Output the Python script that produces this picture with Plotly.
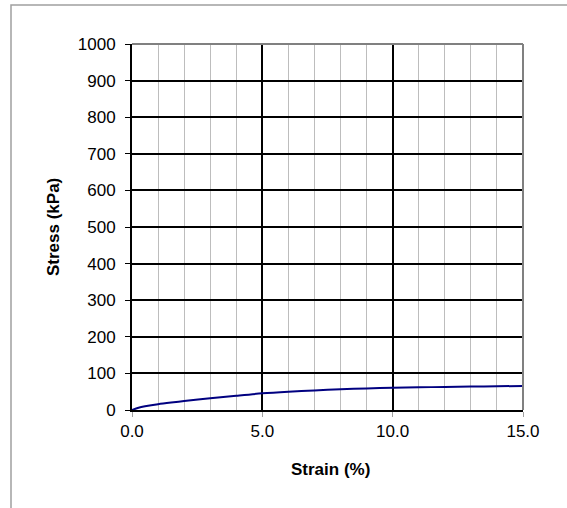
import plotly.graph_objects as go

strain = [0, 0.25, 0.5, 1, 1.5, 2, 3, 4, 5, 6, 7, 8, 9, 10, 11, 12, 13, 14, 15]
stress = [0, 6, 10, 16, 20.5, 24.5, 32, 39, 45.5, 50, 53.5, 56.5, 59, 61, 62, 63, 64, 65, 65.5]

x_ticks = [0, 5, 10, 15]
y_ticks = list(range(0, 1001, 100))

W, H = 567, 508
L, R, T, B = 132, 44, 44, 98
pw, ph = W - L - R, H - T - B

font = "Liberation Sans, Arial, sans-serif"

fig = go.Figure()
fig.add_trace(go.Scatter(x=strain, y=stress, mode="lines",
                         line=dict(color="#000080", width=2, shape="spline", smoothing=0.8),
                         showlegend=False, hoverinfo="skip"))

fig.update_layout(
    width=W, height=H,
    margin=dict(l=L, r=R, t=T, b=B),
    paper_bgcolor="white", plot_bgcolor="white",
    font=dict(family=font, size=17, color="black"),
    xaxis=dict(range=[0, 15], tickvals=x_ticks, ticktext=[f"{v:.1f}" for v in x_ticks],
               showgrid=True, gridcolor="black", gridwidth=1.5,
               minor=dict(dtick=1, showgrid=True, gridcolor="#bdbdbd", gridwidth=1),
               showline=True, linecolor="black", linewidth=2,
               ticks="outside", ticklen=5, tickcolor="#a0a0a0", tickwidth=1,
               zeroline=False, fixedrange=True,
               tickfont=dict(size=17)),
    yaxis=dict(range=[0, 1000], tickvals=y_ticks,
               showgrid=True, gridcolor="black", gridwidth=1.5,
               showline=True, linecolor="black", linewidth=2,
               ticks="outside", ticklen=5, tickcolor="black", tickwidth=1,
               ticklabelstandoff=6,
               zeroline=False, fixedrange=True,
               tickfont=dict(size=17)),
)

# gray top/right frame of plot area
fig.add_shape(type="line", xref="paper", yref="paper", x0=0, x1=1, y0=1, y1=1,
              line=dict(color="#808080", width=2), layer="above")
fig.add_shape(type="line", xref="paper", yref="paper", x0=1, x1=1, y0=0, y1=1,
              line=dict(color="#808080", width=2), layer="above")

# outer chart border
bx = (11 - L) / pw
by = (H - B - 5) / ph
fig.add_shape(type="rect", xref="paper", yref="paper", x0=bx, x1=1.5, y0=-0.5, y1=by,
              line=dict(color="#a0a0a0", width=1.5), layer="below")

fig.add_annotation(text="<b>Strain (%)</b>", xref="paper", yref="paper",
                   x=(330 - L) / pw, y=(H - B - 469) / ph, xanchor="center", yanchor="middle",
                   showarrow=False, font=dict(size=17))
fig.add_annotation(text="<b>Stress (kPa)</b>", xref="paper", yref="paper",
                   x=(53 - L) / pw, y=(H - B - 227) / ph, xanchor="center", yanchor="middle",
                   textangle=-90, showarrow=False, font=dict(size=17))

fig.write_html("out.html")
